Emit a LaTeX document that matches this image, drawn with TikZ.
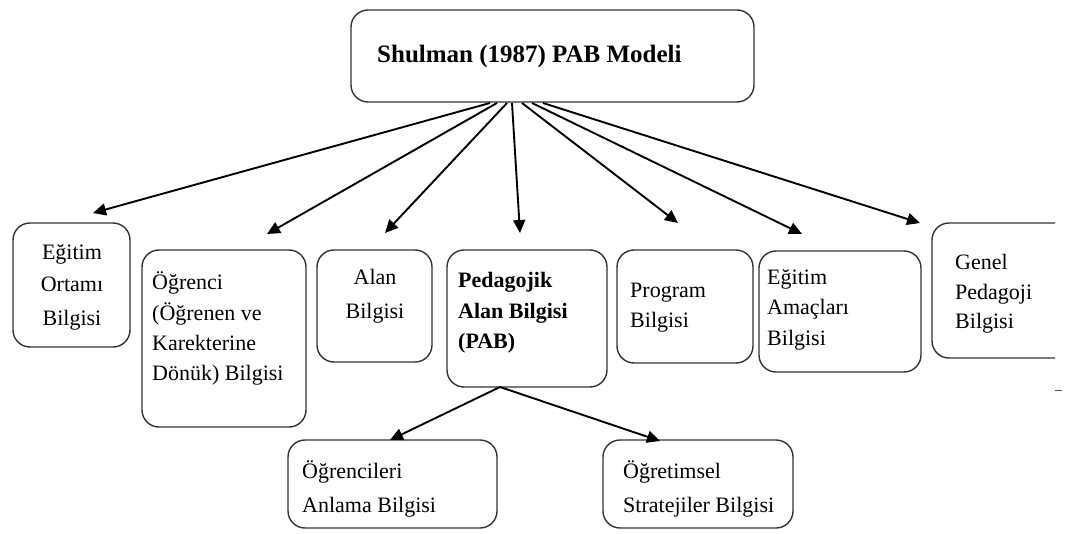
\documentclass[tikz,border=0pt]{standalone}
\usepackage{fontspec}
\setmainfont{Liberation Serif}
\usetikzlibrary{arrows.meta}
\tikzset{
  box/.style={draw=black!80, line width=1.4pt, rounded corners=17pt, fill=none},
  txt/.style={anchor=base west, inner sep=0pt, font=\fontsize{22}{26}\selectfont},
  ctxt/.style={anchor=base, inner sep=0pt, font=\fontsize{22}{26}\selectfont},
  btxt/.style={anchor=base west, inner sep=0pt, font=\fontsize{22}{26}\selectfont\bfseries},
  conn/.style={draw=black, line width=1.9pt, -{Triangle[length=13pt,width=12pt]}},
}
\begin{document}
\begin{tikzpicture}[x=1pt,y=-1pt]
\useasboundingbox (0,0) rectangle (1067,534);
% boxes
\draw[box] (351,10) rectangle (754,102);
\draw[box] (13,223) rectangle (130,347);
\draw[box] (142,250) rectangle (306,427);
\draw[box] (317,250) rectangle (432,362);
\draw[box] (447,250) rectangle (607,387);
\draw[box] (617,250) rectangle (753,363);
\draw[box] (759,251) rectangle (921,372);
\draw[box] (1055,223) -- (932,223) -- (932,358) -- (1055,358);
\draw[box] (288,440) rectangle (497,528);
\draw[box] (603,440) rectangle (793,528);
% tiny edge marks
\draw[black!70, line width=1pt] (1055,390) -- (1062,390);
% texts
\node[btxt, font=\fontsize{25}{28}\selectfont\bfseries] (title) at (377,63) {Shulman (1987) PAB Modeli};
\node[ctxt] (e1) at (72,260) {Eğitim};
\node[ctxt] (e2) at (72,292) {Ortamı};
\node[ctxt] (e3) at (72,325) {Bilgisi};
\node[txt] (o1) at (152,290) {Öğrenci};
\node[txt] (o2) at (152,320) {(Öğrenen ve};
\node[txt] (o3) at (152,350) {Karekterine};
\node[txt] (o4) at (152,380) {Dönük) Bilgisi};
\node[ctxt] (a1) at (375,285) {Alan};
\node[ctxt] (a2) at (375,318) {Bilgisi};
\node[btxt] (p1) at (458,288) {Pedagojik};
\node[btxt] (p2) at (458,318) {Alan Bilgisi};
\node[btxt] (p3) at (458,348) {(PAB)};
\node[txt] (g1) at (630,298) {Program};
\node[txt] (g2) at (630,327) {Bilgisi};
\node[txt] (m1) at (767,285) {Eğitim};
\node[txt] (m2) at (767,315) {Amaçları};
\node[txt] (m3) at (767,345) {Bilgisi};
\node[txt] (n1) at (955,270) {Genel};
\node[txt] (n2) at (955,299) {Pedagoji};
\node[txt] (n3) at (955,328) {Bilgisi};
\node[txt] (s1) at (302,478) {Öğrencileri};
\node[txt] (s2) at (302,512) {Anlama Bilgisi};
\node[txt] (r1) at (623,478) {Öğretimsel};
\node[txt] (r2) at (623,512) {Stratejiler Bilgisi};
% connector coordinates
\coordinate (s0) at (490,103);
\coordinate (sA) at (497,103);
\coordinate (sB) at (507,103);
\coordinate (sC) at (512,103);
\coordinate (sD) at (522,103);
\coordinate (sE) at (532,103);
\coordinate (sF) at (543,103);
\coordinate (t0) at (93,213);
\coordinate (tA) at (267,234);
\coordinate (tB) at (385,233);
\coordinate (tC) at (520,233);
\coordinate (tD) at (678,223);
\coordinate (tE) at (802,234);
\coordinate (tF) at (920,223);
\coordinate (pb) at (500,387);
\coordinate (u1) at (390,440);
\coordinate (u2) at (660,441);
\draw[conn] (s0) -- (t0);
\draw[conn] (sA) -- (tA);
\draw[conn] (sB) -- (tB);
\draw[conn] (sC) -- (tC);
\draw[conn] (sD) -- (tD);
\draw[conn] (sE) -- (tE);
\draw[conn] (sF) -- (tF);
\draw[conn] (pb) -- (u1);
\draw[conn] (pb) -- (u2);
\end{tikzpicture}
\end{document}
